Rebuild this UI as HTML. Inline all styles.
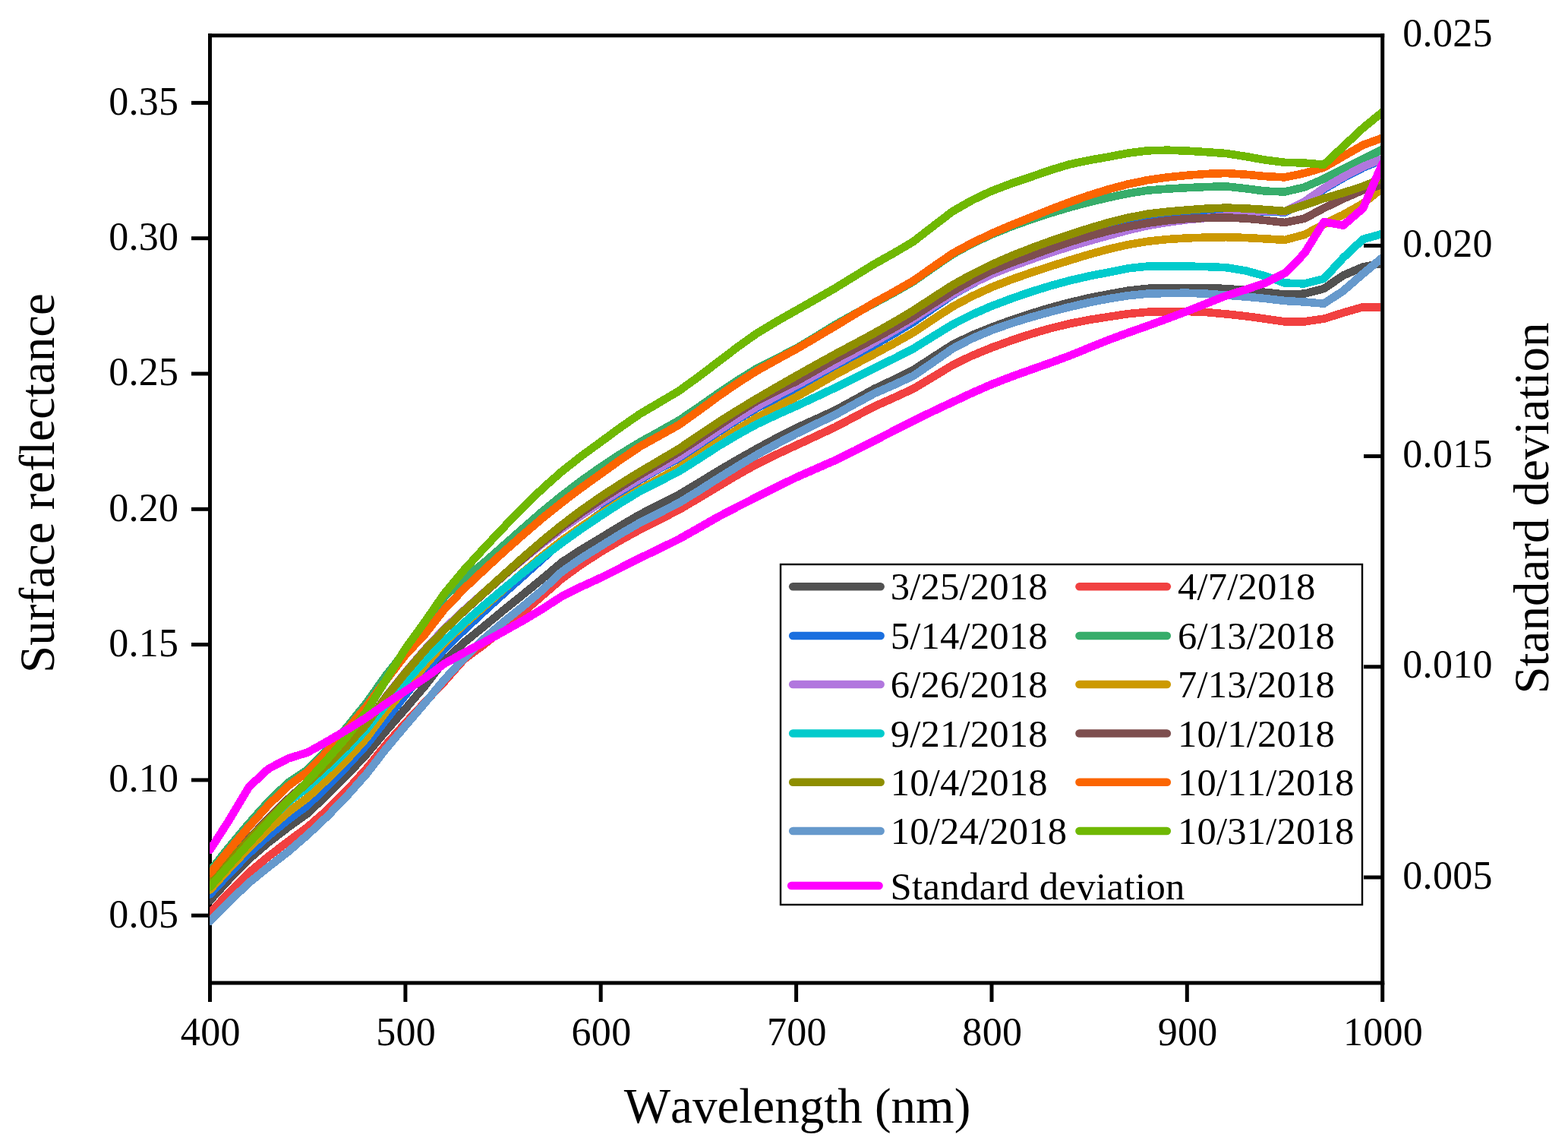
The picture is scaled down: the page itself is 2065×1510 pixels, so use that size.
<!DOCTYPE html>
<html lang="en"><head><meta charset="utf-8"><title>Surface reflectance and standard deviation vs wavelength</title>
<style>html,body{margin:0;padding:0;background:#fff}body{width:2065px;height:1510px;overflow:hidden}svg{display:block}text{font-family:"Liberation Serif",serif;fill:#000;font-variant-ligatures:none;font-kerning:none}</style></head><body>
<svg width="2065" height="1510" viewBox="0 0 2065 1510">
<rect width="2065" height="1510" fill="#fff"/>
<defs><clipPath id="cp"><rect x="276.2" y="46.8" width="1542.0" height="1247.2"/></clipPath></defs>
<g stroke="#000" stroke-width="5.0" fill="none" stroke-linecap="butt">
<path d="M276.5 44.3 V1296.5"/>
<path d="M274.0 1294.0 H1823.2"/>
<path d="M274.0 46.8 H1823.2"/>
<path d="M252.0 1205.2 H276.5"/>
<path d="M252.0 1026.9 H276.5"/>
<path d="M252.0 848.6 H276.5"/>
<path d="M252.0 670.3 H276.5"/>
<path d="M252.0 492.0 H276.5"/>
<path d="M252.0 313.7 H276.5"/>
<path d="M252.0 135.4 H276.5"/>
<path d="M276.5 1294.0 V1319.0"/>
<path d="M533.9 1294.0 V1319.0"/>
<path d="M791.2 1294.0 V1319.0"/>
<path d="M1048.6 1294.0 V1319.0"/>
<path d="M1306.0 1294.0 V1319.0"/>
<path d="M1563.3 1294.0 V1319.0"/>
<path d="M1820.7 1294.0 V1319.0"/>
</g>
<g clip-path="url(#cp)" fill="none" stroke-linejoin="round" stroke-linecap="round" shape-rendering="crispEdges" stroke-width="10.6">
<path stroke="#515151" d="M276.5 1185.5 L302.2 1157.2 L328.0 1130.8 L353.7 1108.9 L379.4 1089.2 L405.2 1070.8 L430.9 1046.2 L456.7 1020.6 L482.4 993.3 L508.1 962.5 L533.9 933.1 L559.6 903.0 L585.3 869.8 L611.1 846.0 L636.8 825.1 L662.5 803.9 L688.3 783.1 L714.0 762.1 L739.8 740.3 L765.5 723.5 L791.2 708.2 L817.0 692.4 L842.7 677.4 L868.4 664.3 L894.2 651.2 L919.9 635.8 L945.7 620.0 L971.4 605.0 L997.1 590.5 L1022.9 576.6 L1048.6 563.5 L1074.3 551.9 L1100.1 540.1 L1125.8 526.1 L1151.5 511.9 L1177.3 499.7 L1203.0 487.0 L1228.8 470.2 L1254.5 453.7 L1280.2 441.3 L1306.0 430.8 L1331.7 421.5 L1357.4 412.9 L1383.2 405.1 L1408.9 398.2 L1434.7 392.2 L1460.4 387.2 L1486.1 382.6 L1511.9 379.8 L1537.6 379.1 L1563.3 378.9 L1589.1 379.2 L1614.8 380.0 L1640.5 382.0 L1666.3 384.9 L1692.0 387.5 L1717.8 386.7 L1743.5 380.0 L1769.2 362.5 L1795.0 351.5 L1820.7 346.5"/>
<path stroke="#F14040" d="M276.5 1202.0 L302.2 1174.5 L328.0 1148.7 L353.7 1127.4 L379.4 1107.8 L405.2 1088.8 L430.9 1066.4 L456.7 1040.6 L482.4 1012.3 L508.1 980.6 L533.9 952.0 L559.6 924.5 L585.3 897.3 L611.1 868.0 L636.8 849.0 L662.5 828.3 L688.3 806.5 L714.0 784.4 L739.8 761.9 L765.5 743.2 L791.2 726.6 L817.0 711.4 L842.7 697.3 L868.4 684.3 L894.2 671.1 L919.9 656.0 L945.7 640.5 L971.4 625.2 L997.1 610.8 L1022.9 598.2 L1048.6 586.2 L1074.3 574.3 L1100.1 562.2 L1125.8 548.6 L1151.5 535.1 L1177.3 523.6 L1203.0 511.7 L1228.8 496.2 L1254.5 480.7 L1280.2 468.2 L1306.0 457.6 L1331.7 448.3 L1357.4 439.8 L1383.2 432.3 L1408.9 426.0 L1434.7 421.0 L1460.4 417.0 L1486.1 413.1 L1511.9 410.7 L1537.6 410.2 L1563.3 410.0 L1589.1 411.1 L1614.8 413.4 L1640.5 416.2 L1666.3 419.7 L1692.0 423.4 L1717.8 423.4 L1743.5 419.7 L1769.2 411.6 L1795.0 404.2 L1820.7 404.2"/>
<path stroke="#1A6FDF" d="M276.5 1177.3 L302.2 1149.6 L328.0 1123.3 L353.7 1100.3 L379.4 1079.3 L405.2 1060.2 L430.9 1034.9 L456.7 1008.9 L482.4 980.9 L508.1 947.9 L533.9 915.1 L559.6 883.5 L585.3 854.7 L611.1 829.5 L636.8 805.7 L662.5 782.2 L688.3 759.2 L714.0 736.2 L739.8 713.0 L765.5 694.0 L791.2 675.5 L817.0 653.0 L842.7 631.9 L868.4 617.1 L894.2 603.2 L919.9 586.3 L945.7 569.0 L971.4 552.4 L997.1 537.0 L1022.9 523.9 L1048.6 511.2 L1074.3 496.8 L1100.1 482.1 L1125.8 468.2 L1151.5 454.1 L1177.3 439.5 L1203.0 423.9 L1228.8 405.9 L1254.5 388.3 L1280.2 373.8 L1306.0 360.5 L1331.7 347.3 L1357.4 335.0 L1383.2 323.5 L1408.9 313.5 L1434.7 305.7 L1460.4 299.0 L1486.1 292.3 L1511.9 287.0 L1537.6 283.4 L1563.3 281.5 L1589.1 281.2 L1614.8 281.0 L1640.5 279.6 L1666.3 278.5 L1692.0 279.5 L1717.8 267.0 L1743.5 249.2 L1769.2 234.2 L1795.0 220.8 L1820.7 210.4"/>
<path stroke="#37AD6B" d="M276.5 1146.8 L302.2 1114.6 L328.0 1083.8 L353.7 1055.1 L379.4 1030.5 L405.2 1013.2 L430.9 986.8 L456.7 957.6 L482.4 925.7 L508.1 889.5 L533.9 856.8 L559.6 827.0 L585.3 785.7 L611.1 761.6 L636.8 741.4 L662.5 718.8 L688.3 696.0 L714.0 673.6 L739.8 652.5 L765.5 633.0 L791.2 614.8 L817.0 597.9 L842.7 582.2 L868.4 568.0 L894.2 553.5 L919.9 536.1 L945.7 518.0 L971.4 500.8 L997.1 484.9 L1022.9 471.8 L1048.6 458.8 L1074.3 443.3 L1100.1 427.4 L1125.8 413.1 L1151.5 399.2 L1177.3 385.3 L1203.0 370.6 L1228.8 352.5 L1254.5 334.8 L1280.2 320.8 L1306.0 308.7 L1331.7 298.3 L1357.4 289.1 L1383.2 280.6 L1408.9 272.9 L1434.7 266.0 L1460.4 260.0 L1486.1 254.6 L1511.9 250.6 L1537.6 248.6 L1563.3 247.2 L1589.1 246.0 L1614.8 245.4 L1640.5 248.2 L1666.3 251.6 L1692.0 252.5 L1717.8 246.5 L1743.5 235.4 L1769.2 222.4 L1795.0 209.4 L1820.7 196.5"/>
<path stroke="#B177DE" d="M276.5 1163.0 L302.2 1134.2 L328.0 1106.0 L353.7 1079.4 L379.4 1054.0 L405.2 1030.6 L430.9 1007.0 L456.7 981.8 L482.4 953.5 L508.1 917.5 L533.9 885.1 L559.6 855.0 L585.3 827.6 L611.1 803.3 L636.8 780.5 L662.5 758.3 L688.3 736.7 L714.0 715.9 L739.8 696.4 L765.5 678.5 L791.2 661.7 L817.0 645.6 L842.7 630.3 L868.4 616.1 L894.2 601.5 L919.9 584.6 L945.7 567.2 L971.4 550.7 L997.1 535.0 L1022.9 521.0 L1048.6 507.4 L1074.3 493.5 L1100.1 479.4 L1125.8 465.0 L1151.5 450.4 L1177.3 435.5 L1203.0 420.1 L1228.8 403.5 L1254.5 387.5 L1280.2 373.5 L1306.0 361.2 L1331.7 350.9 L1357.4 341.7 L1383.2 332.8 L1408.9 324.6 L1434.7 317.1 L1460.4 310.0 L1486.1 303.0 L1511.9 297.0 L1537.6 292.7 L1563.3 289.3 L1589.1 286.9 L1614.8 284.5 L1640.5 280.3 L1666.3 277.5 L1692.0 278.5 L1717.8 265.5 L1743.5 247.7 L1769.2 232.8 L1795.0 219.4 L1820.7 209.0"/>
<path stroke="#CC9900" d="M276.5 1171.5 L302.2 1143.1 L328.0 1116.0 L353.7 1091.6 L379.4 1069.4 L405.2 1050.0 L430.9 1025.9 L456.7 1000.3 L482.4 971.9 L508.1 937.3 L533.9 906.2 L559.6 876.4 L585.3 846.5 L611.1 822.0 L636.8 799.5 L662.5 776.6 L688.3 753.9 L714.0 732.1 L739.8 711.8 L765.5 693.5 L791.2 676.4 L817.0 659.9 L842.7 644.3 L868.4 630.0 L894.2 615.6 L919.9 598.9 L945.7 581.7 L971.4 565.1 L997.1 549.5 L1022.9 535.8 L1048.6 522.5 L1074.3 507.9 L1100.1 493.2 L1125.8 479.6 L1151.5 466.1 L1177.3 452.2 L1203.0 437.6 L1228.8 420.4 L1254.5 403.7 L1280.2 390.0 L1306.0 378.1 L1331.7 368.1 L1357.4 359.1 L1383.2 350.6 L1408.9 342.6 L1434.7 334.8 L1460.4 327.8 L1486.1 322.0 L1511.9 317.7 L1537.6 315.0 L1563.3 313.4 L1589.1 312.6 L1614.8 312.2 L1640.5 313.0 L1666.3 314.4 L1692.0 315.9 L1717.8 309.0 L1743.5 295.4 L1769.2 282.6 L1795.0 268.0 L1820.7 247.5"/>
<path stroke="#00CBCC" d="M276.5 1166.0 L302.2 1135.8 L328.0 1106.8 L353.7 1080.0 L379.4 1056.0 L405.2 1036.4 L430.9 1013.6 L456.7 988.4 L482.4 960.6 L508.1 928.0 L533.9 898.0 L559.6 869.8 L585.3 843.8 L611.1 820.0 L636.8 797.5 L662.5 775.8 L688.3 754.6 L714.0 734.2 L739.8 714.7 L765.5 696.3 L791.2 679.0 L817.0 662.3 L842.7 646.8 L868.4 633.7 L894.2 620.6 L919.9 604.3 L945.7 587.6 L971.4 572.3 L997.1 558.2 L1022.9 546.1 L1048.6 534.6 L1074.3 522.6 L1100.1 510.4 L1125.8 497.6 L1151.5 484.6 L1177.3 472.1 L1203.0 458.9 L1228.8 442.9 L1254.5 427.1 L1280.2 414.1 L1306.0 402.9 L1331.7 393.2 L1357.4 384.3 L1383.2 376.3 L1408.9 369.3 L1434.7 363.4 L1460.4 358.4 L1486.1 353.3 L1511.9 350.5 L1537.6 350.5 L1563.3 350.6 L1589.1 351.1 L1614.8 352.2 L1640.5 356.4 L1666.3 363.4 L1692.0 372.6 L1717.8 373.4 L1743.5 367.0 L1769.2 339.2 L1795.0 315.0 L1820.7 307.7"/>
<path stroke="#7D4E4E" d="M276.5 1162.0 L302.2 1132.6 L328.0 1104.0 L353.7 1077.2 L379.4 1052.0 L405.2 1029.0 L430.9 1006.0 L456.7 981.3 L482.4 953.5 L508.1 918.0 L533.9 885.8 L559.6 856.0 L585.3 829.0 L611.1 804.6 L636.8 781.5 L662.5 758.6 L688.3 736.0 L714.0 714.2 L739.8 693.8 L765.5 675.1 L791.2 657.7 L817.0 641.2 L842.7 625.3 L868.4 610.2 L894.2 594.9 L919.9 578.0 L945.7 560.8 L971.4 543.6 L997.1 527.6 L1022.9 514.6 L1048.6 502.1 L1074.3 487.6 L1100.1 472.9 L1125.8 459.4 L1151.5 445.9 L1177.3 431.6 L1203.0 416.6 L1228.8 399.9 L1254.5 383.5 L1280.2 368.9 L1306.0 356.2 L1331.7 346.0 L1357.4 336.8 L1383.2 327.4 L1408.9 318.6 L1434.7 310.8 L1460.4 304.0 L1486.1 298.2 L1511.9 293.6 L1537.6 290.2 L1563.3 288.0 L1589.1 286.9 L1614.8 286.4 L1640.5 287.6 L1666.3 290.0 L1692.0 293.0 L1717.8 287.8 L1743.5 274.0 L1769.2 261.6 L1795.0 250.2 L1820.7 243.0"/>
<path stroke="#8E8E00" d="M276.5 1163.0 L302.2 1134.0 L328.0 1105.6 L353.7 1078.9 L379.4 1053.5 L405.2 1030.2 L430.9 1006.8 L456.7 981.9 L482.4 953.9 L508.1 918.3 L533.9 886.0 L559.6 856.0 L585.3 829.0 L611.1 804.3 L636.8 780.8 L662.5 757.5 L688.3 734.4 L714.0 712.2 L739.8 691.2 L765.5 671.8 L791.2 653.8 L817.0 637.1 L842.7 621.2 L868.4 606.1 L894.2 590.8 L919.9 573.5 L945.7 556.1 L971.4 540.0 L997.1 524.5 L1022.9 509.5 L1048.6 494.8 L1074.3 480.4 L1100.1 466.2 L1125.8 452.5 L1151.5 438.6 L1177.3 424.0 L1203.0 408.7 L1228.8 391.8 L1254.5 375.3 L1280.2 361.1 L1306.0 348.3 L1331.7 337.1 L1357.4 326.9 L1383.2 317.5 L1408.9 308.8 L1434.7 300.4 L1460.4 292.9 L1486.1 286.5 L1511.9 281.6 L1537.6 278.6 L1563.3 276.5 L1589.1 274.6 L1614.8 273.6 L1640.5 274.4 L1666.3 276.0 L1692.0 278.0 L1717.8 270.0 L1743.5 261.2 L1769.2 253.8 L1795.0 245.4 L1820.7 235.0"/>
<path stroke="#FB6501" d="M276.5 1150.0 L302.2 1118.4 L328.0 1088.0 L353.7 1059.6 L379.4 1034.7 L405.2 1016.0 L430.9 989.5 L456.7 960.9 L482.4 930.2 L508.1 896.0 L533.9 862.3 L559.6 835.0 L585.3 802.0 L611.1 775.1 L636.8 750.9 L662.5 727.3 L688.3 704.4 L714.0 682.5 L739.8 661.7 L765.5 642.3 L791.2 623.9 L817.0 605.3 L842.7 588.0 L868.4 573.7 L894.2 559.3 L919.9 541.0 L945.7 521.9 L971.4 504.3 L997.1 487.9 L1022.9 473.6 L1048.6 459.6 L1074.3 444.6 L1100.1 429.2 L1125.8 413.7 L1151.5 398.4 L1177.3 384.3 L1203.0 369.6 L1228.8 351.4 L1254.5 333.7 L1280.2 319.8 L1306.0 307.5 L1331.7 296.4 L1357.4 286.1 L1383.2 275.8 L1408.9 266.0 L1434.7 257.0 L1460.4 249.1 L1486.1 242.3 L1511.9 237.0 L1537.6 233.4 L1563.3 230.8 L1589.1 228.9 L1614.8 228.0 L1640.5 229.7 L1666.3 232.1 L1692.0 233.4 L1717.8 228.0 L1743.5 220.5 L1769.2 205.7 L1795.0 190.9 L1820.7 181.6"/>
<path stroke="#6699CC" d="M276.5 1212.8 L302.2 1186.7 L328.0 1162.0 L353.7 1141.3 L379.4 1121.3 L405.2 1099.0 L430.9 1074.8 L456.7 1048.2 L482.4 1019.2 L508.1 986.1 L533.9 955.5 L559.6 925.5 L585.3 894.6 L611.1 866.5 L636.8 841.4 L662.5 819.4 L688.3 798.7 L714.0 777.0 L739.8 752.8 L765.5 734.9 L791.2 719.0 L817.0 703.1 L842.7 688.2 L868.4 675.2 L894.2 662.0 L919.9 646.3 L945.7 629.8 L971.4 613.9 L997.1 598.6 L1022.9 584.4 L1048.6 571.0 L1074.3 558.5 L1100.1 546.0 L1125.8 531.9 L1151.5 518.0 L1177.3 506.7 L1203.0 494.8 L1228.8 477.0 L1254.5 459.0 L1280.2 445.6 L1306.0 434.7 L1331.7 425.7 L1357.4 417.7 L1383.2 410.6 L1408.9 404.1 L1434.7 398.1 L1460.4 393.2 L1486.1 389.1 L1511.9 386.6 L1537.6 386.0 L1563.3 385.7 L1589.1 386.7 L1614.8 388.6 L1640.5 390.6 L1666.3 393.0 L1692.0 396.0 L1717.8 397.5 L1743.5 399.7 L1769.2 382.8 L1795.0 360.4 L1820.7 339.0"/>
<path stroke="#6FB802" d="M276.5 1167.6 L302.2 1138.7 L328.0 1110.0 L353.7 1081.8 L379.4 1054.3 L405.2 1028.3 L430.9 1000.0 L456.7 970.1 L482.4 936.9 L508.1 895.6 L533.9 854.0 L559.6 818.5 L585.3 781.3 L611.1 750.4 L636.8 722.4 L662.5 695.1 L688.3 668.7 L714.0 643.6 L739.8 620.7 L765.5 600.5 L791.2 581.8 L817.0 562.8 L842.7 545.0 L868.4 529.9 L894.2 514.6 L919.9 496.0 L945.7 476.4 L971.4 456.9 L997.1 438.6 L1022.9 423.1 L1048.6 408.6 L1074.3 394.0 L1100.1 379.2 L1125.8 363.4 L1151.5 347.6 L1177.3 333.2 L1203.0 317.9 L1228.8 297.9 L1254.5 278.3 L1280.2 263.6 L1306.0 251.4 L1331.7 241.7 L1357.4 233.0 L1383.2 224.0 L1408.9 216.3 L1434.7 210.9 L1460.4 206.4 L1486.1 201.5 L1511.9 198.3 L1537.6 197.7 L1563.3 198.6 L1589.1 200.2 L1614.8 202.0 L1640.5 206.0 L1666.3 210.6 L1692.0 213.8 L1717.8 214.5 L1743.5 216.8 L1769.2 192.7 L1795.0 168.6 L1820.7 147.5"/>
<path stroke="#FF00FF" d="M276.5 1119.0 L302.2 1079.0 L328.0 1035.8 L353.7 1012.0 L379.4 998.6 L405.2 990.5 L430.9 976.1 L456.7 961.0 L482.4 944.8 L508.1 926.5 L533.9 909.7 L559.6 892.7 L585.3 873.8 L611.1 859.3 L636.8 845.9 L662.5 831.7 L688.3 817.3 L714.0 802.0 L739.8 785.1 L765.5 772.4 L791.2 760.6 L817.0 747.7 L842.7 734.7 L868.4 722.4 L894.2 709.7 L919.9 695.2 L945.7 680.5 L971.4 667.1 L997.1 654.1 L1022.9 641.1 L1048.6 628.5 L1074.3 617.2 L1100.1 605.9 L1125.8 593.3 L1151.5 580.2 L1177.3 567.0 L1203.0 553.9 L1228.8 541.4 L1254.5 529.3 L1280.2 517.3 L1306.0 506.0 L1331.7 496.0 L1357.4 486.8 L1383.2 477.7 L1408.9 468.2 L1434.7 457.7 L1460.4 447.3 L1486.1 437.9 L1511.9 428.8 L1537.6 419.4 L1563.3 409.8 L1589.1 399.4 L1614.8 389.3 L1640.5 381.3 L1666.3 372.6 L1692.0 359.6 L1717.8 333.7 L1743.5 292.1 L1769.2 296.6 L1795.0 274.3 L1820.7 215.0"/>
</g>
<g stroke="#000" stroke-width="5.0" fill="none">
<path d="M1820.7 44.3 V1296.5"/>
<path d="M1796.0 1155.0 H1820.7"/>
<path d="M1796.0 877.8 H1820.7"/>
<path d="M1796.0 600.6 H1820.7"/>
<path d="M1796.0 323.4 H1820.7"/>
</g>
<g font-size="52px" letter-spacing="0.3">
<text x="235.4" y="1220.5" text-anchor="end">0.05</text>
<text x="235.4" y="1042.2" text-anchor="end">0.10</text>
<text x="235.4" y="863.9" text-anchor="end">0.15</text>
<text x="235.4" y="685.6" text-anchor="end">0.20</text>
<text x="235.4" y="507.3" text-anchor="end">0.25</text>
<text x="235.4" y="329.0" text-anchor="end">0.30</text>
<text x="235.4" y="150.7" text-anchor="end">0.35</text>
<text x="277.3" y="1376.2" text-anchor="middle">400</text>
<text x="534.7" y="1376.2" text-anchor="middle">500</text>
<text x="792.0" y="1376.2" text-anchor="middle">600</text>
<text x="1049.4" y="1376.2" text-anchor="middle">700</text>
<text x="1306.8" y="1376.2" text-anchor="middle">800</text>
<text x="1564.1" y="1376.2" text-anchor="middle">900</text>
<text x="1821.5" y="1376.2" text-anchor="middle">1000</text>
<text x="1847.3" y="1169.6">0.005</text>
<text x="1847.3" y="892.4">0.010</text>
<text x="1847.3" y="615.2">0.015</text>
<text x="1847.3" y="338.0">0.020</text>
<text x="1847.3" y="60.8">0.025</text>
</g>
<g font-size="65px">
<text x="1050" y="1478.2" text-anchor="middle">Wavelength (nm)</text>
<text transform="translate(71 636) rotate(-90)" text-anchor="middle">Surface reflectance</text>
<text transform="translate(2039 669) rotate(-90)" text-anchor="middle">Standard deviation</text>
</g>
<rect x="1028" y="743" width="766" height="448" fill="#fff" stroke="#000" stroke-width="2.4"/>
<g stroke-width="10.6" stroke-linecap="round" fill="none">
<path stroke="#515151" d="M1044.2 772.3 H1159.6"/>
<path stroke="#1A6FDF" d="M1044.2 837 H1159.6"/>
<path stroke="#B177DE" d="M1044.2 901 H1159.6"/>
<path stroke="#00CBCC" d="M1044.2 965.5 H1159.6"/>
<path stroke="#8E8E00" d="M1044.2 1029.7 H1159.6"/>
<path stroke="#6699CC" d="M1044.2 1094 H1159.6"/>
<path stroke="#F14040" d="M1421.5 772.3 H1536.8"/>
<path stroke="#37AD6B" d="M1421.5 837 H1536.8"/>
<path stroke="#CC9900" d="M1421.5 901 H1536.8"/>
<path stroke="#7D4E4E" d="M1421.5 965.5 H1536.8"/>
<path stroke="#FB6501" d="M1421.5 1029.7 H1536.8"/>
<path stroke="#6FB802" d="M1421.5 1094 H1536.8"/>
<path stroke="#FF00FF" d="M1042.2 1166 H1157.5"/>
</g>
<g font-size="50.6px" letter-spacing="0.2">
<text x="1172.8" y="789.3">3/25/2018</text>
<text x="1172.8" y="854.0">5/14/2018</text>
<text x="1172.8" y="918.0">6/26/2018</text>
<text x="1172.8" y="982.5">9/21/2018</text>
<text x="1172.8" y="1046.7">10/4/2018</text>
<text x="1172.8" y="1111.0">10/24/2018</text>
<text x="1551" y="789.3">4/7/2018</text>
<text x="1551" y="854.0">6/13/2018</text>
<text x="1551" y="918.0">7/13/2018</text>
<text x="1551" y="982.5">10/1/2018</text>
<text x="1551" y="1046.7">10/11/2018</text>
<text x="1551" y="1111.0">10/31/2018</text>
<text x="1172.5" y="1183.6" letter-spacing="0.42">Standard deviation</text>
</g>
</svg></body></html>
